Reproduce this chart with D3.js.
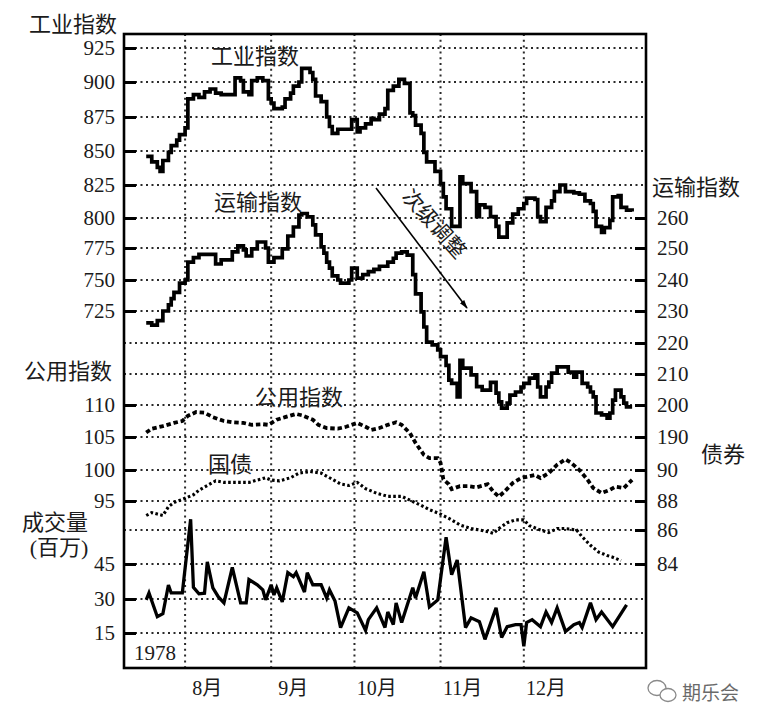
<!DOCTYPE html>
<html>
<head>
<meta charset="utf-8">
<script src="https://cdn.jsdelivr.net/npm/d3@7"></script>
<style>
html,body{margin:0;padding:0;background:#fff;}
svg{display:block;}
</style>
</head>
<body>
<svg id="chart" width="764" height="724"></svg>
<script>
// ---------------- DATA (x = calendar days since 1 Aug 1978) ----------------
const monthStarts = [0, 31, 61, 92, 122];
const monthLabels = ["8月", "9月", "10月", "11月", "12月"];

const indTicks = [925, 900, 875, 850, 825, 800, 775, 750, 725];
const transTicks = [260, 250, 240, 230, 220, 210, 200, 190];
const utilTicks = [110, 105, 100, 95];
const bondTicks = [90, 88, 86, 84];
const volTicks = [45, 30, 15];

const industrialDays = [-14,-12,-10,-9,-8,-6,-5,-3,-2,0,1,3,5,7,9,11,13,18,20,21,23,24,26,28,30,31,32,35,36,38,39,41,42,45,46,47,49,51,52,53,55,60,62,63,65,67,68,70,72,73,75,77,79,81,82,83,85,86,87,90,92,93,94,96,99,100,103,105,106,108,110,112,113,116,118,120,122,123,126,127,128,130,132,133,135,137,140,142,144,146,147,148,150,151,153,154,156,157,159,161];
const industrialValues = [846,842,838,835,843,849,854,858,862,867,888,891,889,893,895,892,891,903,901,893,891,901,903,901,888,885,881,882,888,892,897,900,910,907,902,890,886,875,868,863,866,873,864,867,870,874,873,877,881,894,897,902,899,878,876,869,863,849,842,835,826,816,807,793,831,826,820,801,810,808,801,793,784,796,803,807,811,815,814,801,797,808,813,820,825,820,819,818,813,811,805,793,788,792,798,816,817,808,806,805];

const transportDays = [-14,-12,-10,-8,-6,-5,-4,-2,0,1,3,5,11,13,17,19,21,22,24,26,29,30,32,35,37,39,41,42,44,46,47,49,50,51,52,53,55,56,59,60,62,64,66,68,70,73,75,76,78,80,82,83,85,86,87,89,91,92,94,95,96,98,99,100,103,105,107,110,112,113,114,116,117,119,121,122,124,126,127,128,130,131,132,134,138,140,141,143,145,146,147,148,150,152,153,154,155,157,158,159,161];
const transportValues = [226.3,225.6,227,230,232,234,236,239,240,245.6,247,248,245,246.3,248.8,250.7,249.4,247.5,249.7,252,250,245.6,247,249.7,254,257,261,261.5,260.4,257.7,254.4,250.4,248.4,245.6,243.7,241.3,240,239,240,243.7,240.6,241.7,242.6,243.3,244.3,245.6,246.8,248.4,248.8,247.8,241.7,235.5,229.7,225,220.3,219.4,217.8,215.6,212.8,208,207,202.6,214.4,211.9,209.7,205.9,204.8,207.3,203.8,201,199,200.6,203.2,204.2,205.8,207,208.7,209.7,205.8,202.6,205.8,207.4,210.3,212.3,210.6,209,210.6,207,205.8,204.2,202.6,197.5,196.9,195.9,197.5,201.6,204.8,202.6,200.6,199.4,199.4];

const utilityDays = [-14,-12,-8,-4,-1,1,4,7,10,14,17,21,24,28,30,33,36,40,42,46,48,51,55,58,62,65,67,70,73,76,78,81,83,86,88,91,92,93,95,96,99,102,105,109,111,113,115,118,121,123,126,128,131,134,137,139,142,145,147,150,153,155,158,161];
const utilityValues = [105.7,106.3,106.7,107.2,107.5,108.3,108.9,108.8,108.1,107.5,107.3,107.2,106.9,107,106.9,107.7,108.1,108.6,108.4,107.7,106.9,106.4,106.3,106.6,107.2,106.6,106.1,106.4,106.9,107.3,106.9,105.6,104.1,102.3,101.8,101.8,101.1,98.5,97.7,96.9,97.4,97.4,97.2,97.7,96.5,95.7,96.5,97.9,98.7,98.9,99.2,98.7,99.5,100.8,101.6,101.1,100,98.4,97.1,96.3,96.8,97.3,97.1,98.4];

const bondDays = [-14,-12,-10,-8,-6,-4,-1,3,5,8,11,14,19,23,26,29,31,34,38,41,45,49,52,56,59,62,65,69,73,78,81,85,88,92,95,99,103,106,109,111,113,116,119,122,124,128,131,134,137,141,143,146,149,152,154,157];
const bondValues = [87.0,87.2,87.1,87.0,87.6,87.9,88.1,88.4,88.7,89.0,89.3,89.2,89.2,89.2,89.35,89.5,89.35,89.3,89.5,89.8,89.9,89.8,89.5,89.1,89.0,89.2,88.8,88.5,88.3,88.3,88.05,87.7,87.4,87.1,86.8,86.35,86.1,86.0,85.9,85.8,86.1,86.5,86.7,86.7,86.3,86.0,85.85,86.1,86.1,86.0,85.6,85.1,84.7,84.5,84.4,84.2];

const volumeDays = [-14,-13,-10,-8,-6,-5,-1,2,3,5,7,8,10,12,14,17,20,22,23,26,28,29,31,32,33,35,37,39,40,43,44,46,49,51,52,54,56,59,62,65,66,69,72,73,75,76,78,82,83,86,88,91,94,96,98,101,103,106,108,112,114,116,119,121,122,123,125,128,130,132,134,137,140,142,143,146,148,150,154,159];
const volumeValues = [29.6,32.6,22.2,23.5,36,32.6,32.6,64.2,35,32.2,32.5,45.9,34.8,30.9,28.3,43.5,28.3,28.3,38.3,36.1,33.9,29.6,36.1,31.7,34.8,28.7,41.3,39.6,41.3,33,41.3,36.1,36.1,30.4,33.9,29.1,17.4,26.1,23.9,16.1,20.9,26.1,17.4,24.3,18.7,28.3,19.6,34.8,30.4,41.7,26.5,29.6,56.5,40.4,46.7,17.4,21.7,20,12.2,26.1,13,17.8,18.7,18.7,9.1,19.6,20.9,17.8,24.3,19.6,26.1,15.7,18.7,19.6,17.4,28.3,20.9,24.3,17.8,27.4];

// ---------------- LAYOUT ----------------
const F = {left: 124, right: 646, top: 34, bottom: 668};
const gridPx = [48, 82, 117, 151, 185, 218, 248, 280, 311, 343, 374, 405, 437, 470, 501, 530, 564, 599, 633];
const NUM = "'Liberation Serif','Times New Roman',serif";
const CJK = "'Liberation Serif','Noto Sans CJK SC',sans-serif";
const INK = "#1b1b1b";

const svg = d3.select("#chart");
svg.append("rect").attr("width", 764).attr("height", 724).attr("fill", "#fff");

const x = d3.scaleLinear().domain([-22, 166]).range([F.left, F.right]);
const gridY = d3.scaleLinear().domain(d3.range(gridPx.length)).range(gridPx);

function rowScale(ticks, startRow) {
  return d3.scaleLinear().domain(ticks).range(ticks.map((_, i) => gridY(startRow + i)));
}
const yInd = rowScale(indTicks, 0);
const yTrans = rowScale(transTicks, 5);
const yUtil = rowScale(utilTicks, 11);
const yBond = rowScale(bondTicks, 13);
const yVol = rowScale(volTicks, 16);

// ---------------- GRID ----------------
const grid = svg.append("g").attr("stroke", "#2a2a2a").attr("stroke-width", 2).attr("fill", "none");
grid.selectAll("line.h").data(d3.range(gridPx.length)).join("line")
  .attr("x1", F.left).attr("x2", F.right)
  .attr("y1", d => gridY(d)).attr("y2", d => gridY(d))
  .attr("stroke-dasharray", "2 3.5");
grid.selectAll("line.v").data(monthStarts).join("line")
  .attr("x1", d => x(d)).attr("x2", d => x(d))
  .attr("y1", F.top).attr("y2", F.bottom)
  .attr("stroke-dasharray", "2 3.8");

// ---------------- SERIES ----------------
const zip = (a, b) => a.map((d, i) => [d, b[i]]);
function drawLine(days, vals, yScale, curve, style) {
  const gen = d3.line().x(d => x(d[0])).y(d => yScale(d[1])).curve(curve);
  const p = svg.append("path").datum(zip(days, vals)).attr("d", gen)
    .attr("fill", "none").attr("stroke", "#000");
  Object.entries(style).forEach(([k, v]) => p.attr(k, v));
}
drawLine(industrialDays, industrialValues, yInd, d3.curveStepAfter,
  {"stroke-width": 3.7, "stroke-linejoin": "miter"});
drawLine(transportDays, transportValues, yTrans, d3.curveStepAfter,
  {"stroke-width": 3.7, "stroke-linejoin": "miter"});
drawLine(utilityDays, utilityValues, yUtil, d3.curveLinear,
  {"stroke-width": 3.8, "stroke-dasharray": "4.5 2.8"});
drawLine(bondDays, bondValues, yBond, d3.curveLinear,
  {"stroke-width": 3.1, "stroke-dasharray": "2.6 2.4"});
drawLine(volumeDays, volumeValues, yVol, d3.curveLinear,
  {"stroke-width": 3.3, "stroke-linejoin": "miter", "stroke-miterlimit": 3});

// ---------------- FRAME ----------------
svg.append("rect").attr("x", F.left).attr("y", F.top)
  .attr("width", F.right - F.left).attr("height", F.bottom - F.top)
  .attr("fill", "none").attr("stroke", "#000").attr("stroke-width", 2.6);

// ---------------- AXES ----------------
function styleAxis(g) {
  g.select(".domain").remove();
  g.selectAll(".tick line").attr("stroke", "#000").attr("stroke-width", 3);
  g.selectAll(".tick text").attr("font-family", NUM).attr("font-size", 21).attr("fill", INK);
}
function leftAxis(scale, ticks) {
  svg.append("g").attr("transform", `translate(${F.left},0)`)
    .call(d3.axisLeft(scale).tickValues(ticks).tickSizeInner(-12).tickSizeOuter(0).tickPadding(9).tickFormat(d3.format("d")))
    .call(styleAxis);
}
function rightAxis(scale, ticks) {
  svg.append("g").attr("transform", `translate(${F.right},0)`)
    .call(d3.axisRight(scale).tickValues(ticks).tickSizeInner(-11).tickSizeOuter(0).tickPadding(11).tickFormat(d3.format("d")))
    .call(styleAxis);
}
leftAxis(yInd, indTicks);
leftAxis(yUtil, utilTicks);
leftAxis(yVol, volTicks);
rightAxis(yTrans, transTicks);
rightAxis(yBond, bondTicks);

// month labels
svg.append("g").selectAll("text").data(monthStarts).join("text")
  .attr("x", d => x(d + 8)).attr("y", 688)
  .attr("text-anchor", "middle").attr("dominant-baseline", "central")
  .attr("font-family", CJK).attr("font-size", 20).attr("fill", INK)
  .text((d, i) => monthLabels[i]);

// ---------------- TEXT LABELS ----------------
function label(t, cx, cy, size, anchor) {
  return svg.append("text").attr("x", cx).attr("y", cy)
    .attr("text-anchor", anchor || "middle").attr("dominant-baseline", "central")
    .attr("font-family", CJK).attr("font-size", size).attr("fill", INK).text(t);
}
label("工业指数", 73, 24, 22);
label("工业指数", 255, 56, 22);
label("运输指数", 258, 202, 22);
label("公用指数", 299, 397, 22);
label("国债", 230, 464, 22);
label("公用指数", 68, 371, 22);
label("成交量", 55, 522, 22);
label("(百万)", 59, 547, 22);
label("运输指数", 696, 187, 22);
label("债券", 723, 454, 22);
svg.append("text").attr("x", 134).attr("y", 660)
  .attr("font-family", NUM).attr("font-size", 21).attr("fill", INK).text("1978");

// secondary correction arrow
const defs = svg.append("defs");
defs.append("marker").attr("id", "ah").attr("viewBox", "0 0 10 10")
  .attr("refX", 9).attr("refY", 5).attr("markerWidth", 9).attr("markerHeight", 9)
  .attr("markerUnits", "userSpaceOnUse").attr("orient", "auto")
  .append("path").attr("d", "M0,2 L10,5 L0,8 Z").attr("fill", "#000");
svg.append("line").attr("x1", 376).attr("y1", 188).attr("x2", 467).attr("y2", 308)
  .attr("stroke", "#000").attr("stroke-width", 1.6).attr("marker-end", "url(#ah)");
svg.append("text").attr("transform", "translate(434,224) rotate(48)")
  .attr("text-anchor", "middle").attr("dominant-baseline", "central")
  .attr("font-family", CJK).attr("font-size", 21).attr("fill", INK).text("次级调整");

// watermark
const wm = svg.append("g").attr("fill", "none").attr("stroke", "#8a8a8a").attr("stroke-width", 1.3);
wm.append("ellipse").attr("cx", 657).attr("cy", 688).attr("rx", 9).attr("ry", 7.5);
wm.append("ellipse").attr("cx", 668).attr("cy", 695).attr("rx", 8).attr("ry", 6.5).attr("fill", "#fff");
svg.append("text").attr("x", 682).attr("y", 691).attr("dominant-baseline", "central")
  .attr("font-family", "'Noto Sans CJK SC',sans-serif").attr("font-size", 19).attr("fill", "#6a6a6a").text("期乐会");
</script>
</body>
</html>
